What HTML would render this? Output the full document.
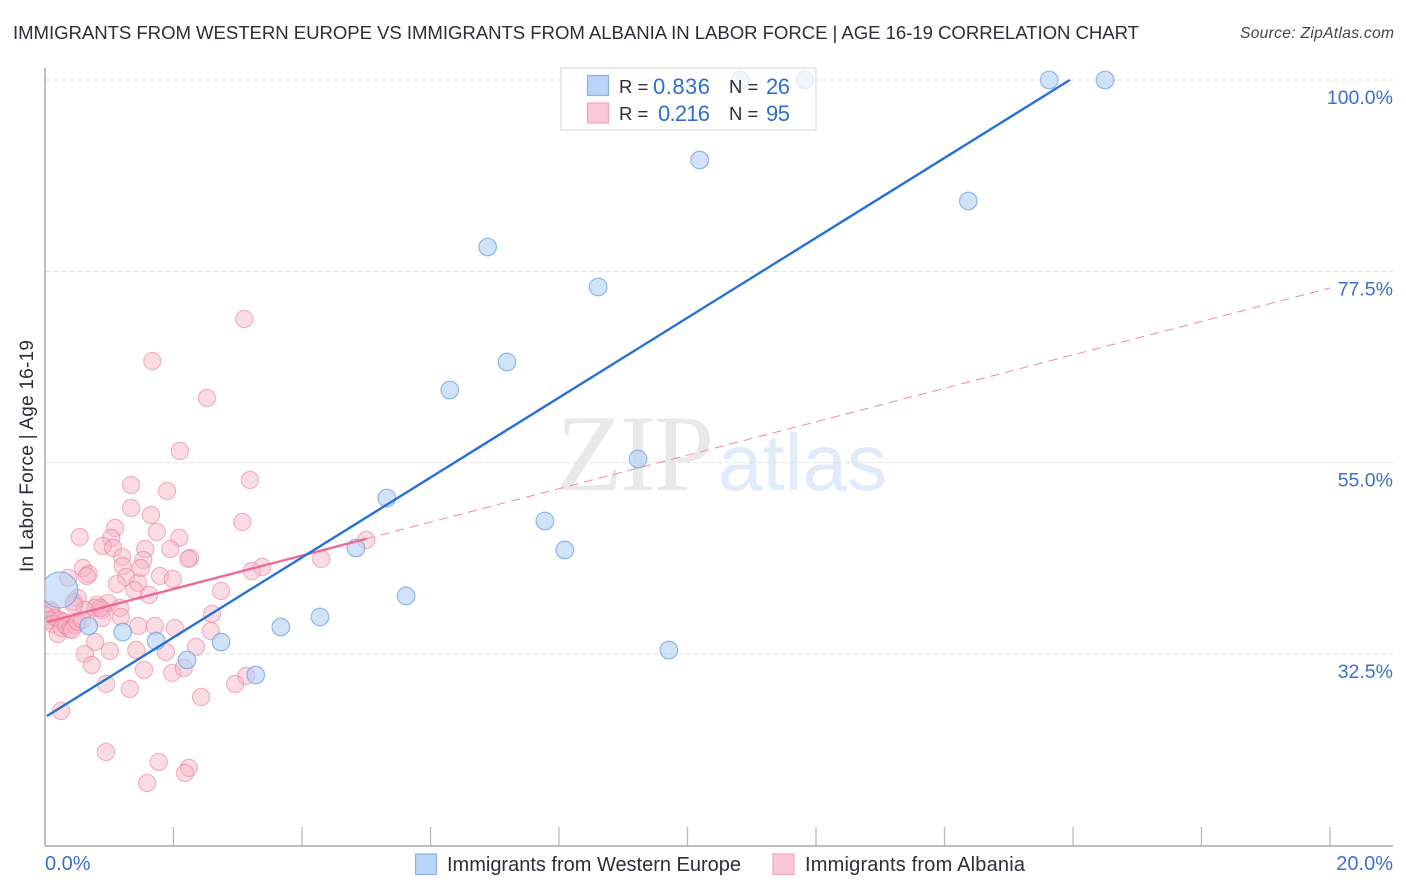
<!DOCTYPE html>
<html lang="en">
<head>
<meta charset="utf-8">
<title>Immigrants from Western Europe vs Immigrants from Albania in Labor Force | Age 16-19 Correlation Chart</title>
<style>
html,body{margin:0;padding:0;background:#fff;}
svg{display:block;font-family:"Liberation Sans",sans-serif;}
</style>
</head>
<body>
<svg id="chart" xmlns="http://www.w3.org/2000/svg" width="1406" height="892" viewBox="0 0 1406 892">
  <defs>
    <clipPath id="plot-clip"><rect x="45" y="60" width="1348" height="786"/></clipPath>
  </defs>
  <rect x="0" y="0" width="1406" height="892" fill="#fff"/>
  <text x="13" y="39" font-size="18.6" fill="#2b2f36" textLength="1126">IMMIGRANTS FROM WESTERN EUROPE VS IMMIGRANTS FROM ALBANIA IN LABOR FORCE | AGE 16-19 CORRELATION CHART</text>
  <text x="1394" y="38" font-size="15.6" font-style="italic" fill="#444" text-anchor="end" textLength="154">Source: ZipAtlas.com</text>
  <text transform="translate(33,572) rotate(-90)" font-size="19" fill="#2b2f36" textLength="232">In Labor Force | Age 16-19</text>

  <g>
    <text x="556" y="490" font-family="'Liberation Serif',serif" font-size="109" fill="#e9e9e9" textLength="158">ZIP</text>
    <text x="718" y="490" font-size="80" fill="#e2ebf9" textLength="169">atlas</text>
  </g>

  <g id="grid"></g>
  <g id="ticks"></g>
  <line x1="45" y1="68" x2="45" y2="846" stroke="#aaa" stroke-width="1.5"/>
  <line x1="45" y1="846" x2="1393" y2="846" stroke="#aaa" stroke-width="1.5"/>
  <g id="ylabels"></g>
  <g id="xlabels"></g>

  <g id="points" clip-path="url(#plot-clip)"></g>
  <g id="lines"></g>

  <g>
    <rect x="561" y="68" width="255" height="62" fill="#fff" fill-opacity="0.72" stroke="#e4e4e4" stroke-width="1.5"/>
    <rect x="587.5" y="75.5" width="21" height="20" fill="#b9d4f7" stroke="#8ab2e6" stroke-width="1.2"/>
    <rect x="587.5" y="103" width="21" height="20" fill="#fcc7d8" stroke="#f2a3bb" stroke-width="1.2"/>
    <text x="619" y="93" font-size="18.5" fill="#2b2f36">R =</text>
    <text x="653" y="94" font-size="22" fill="#2f6fd0" textLength="57">0.836</text>
    <text x="729" y="93" font-size="18.5" fill="#2b2f36">N =</text>
    <text x="766" y="94" font-size="22" fill="#2f6fd0" textLength="24">26</text>
    <text x="619" y="120" font-size="18.5" fill="#2b2f36">R =</text>
    <text x="658" y="121" font-size="22" fill="#2f6fd0" textLength="52">0.216</text>
    <text x="729" y="120" font-size="18.5" fill="#2b2f36">N =</text>
    <text x="766" y="121" font-size="22" fill="#2f6fd0" textLength="24">95</text>
  </g>

  <g>
    <rect x="415.5" y="854" width="21" height="20.5" fill="#b9d4f7" stroke="#8ab2e6" stroke-width="1.2"/>
    <text x="447" y="871" font-size="20" fill="#2b2f36" textLength="294">Immigrants from Western Europe</text>
  </g>
  <g>
    <rect x="773" y="854" width="21" height="20.5" fill="#fcc7d8" stroke="#f2a3bb" stroke-width="1.2"/>
    <text x="805" y="871" font-size="20" fill="#2b2f36" textLength="220">Immigrants from Albania</text>
  </g>
</svg>
<script>
const yTickValues = [100, 77.5, 55, 32.5];
const yTickLabels = ["100.0%", "77.5%", "55.0%", "32.5%"];
const xTickValues = [2, 4, 6, 8, 10, 12, 14, 16, 18, 20];
const xEndValues = [0, 20];
const xEndLabels = ["0.0%", "20.0%"];

const blueX = [15.63,16.50,10.82,11.83,10.19,14.37,6.89,8.61,7.19,6.30,9.23,5.32,7.78,8.09,4.84,5.62,4.28,3.67,0.68,1.21,1.73,2.74,2.21,9.71,3.28,0.23];
const blueY = [100,100,100,100,90.59,85.77,80.36,75.66,66.84,63.54,55.43,50.84,48.14,44.73,44.96,39.32,36.85,35.67,35.79,35.08,34.02,33.91,31.79,32.96,30.02,40.03];
const blueBig = [0,0,0,0,0,0,0,0,0,0,0,0,0,0,0,0,0,0,0,0,0,0,0,0,0,1];

const pinkX = [3.10,1.67,2.52,2.10,3.19,1.34,1.90,1.34,1.65,3.07,1.09,1.74,0.54,2.09,1.03,0.90,1.06,1.56,1.95,2.26,2.23,1.53,1.20,0.59,1.21,1.49,3.38,3.22,4.30,0.68,0.65,0.36,1.26,1.79,1.99,1.12,1.45,1.39,1.62,2.74,0.51,0.45,0.98,0.81,1.17,0.78,0.62,0.89,2.60,1.18,0.89,1.45,1.71,2.02,2.58,0.78,1.42,1.01,1.88,2.35,0.62,0.73,1.54,1.98,2.16,3.13,2.96,0.95,1.32,2.43,0.25,0.95,1.77,2.24,2.18,1.59,0.08,0.11,0.03,0.16,0.06,0.12,0.23,0.30,0.20,0.26,0.33,0.39,0.47,0.42,0.51,0.58,0.45,5.00,0.86];
const pinkY = [71.89,66.95,62.60,56.37,52.96,52.37,51.67,49.67,48.84,48.02,47.32,46.85,46.26,46.14,46.14,45.20,44.96,44.85,44.85,43.79,43.67,43.55,43.90,42.61,42.85,42.61,42.73,42.26,43.67,41.91,41.67,41.44,41.55,41.67,41.32,40.73,40.85,40.02,39.44,39.91,39.08,38.61,38.49,38.26,37.91,37.91,37.67,37.67,37.20,36.85,36.73,35.79,35.79,35.55,35.20,33.91,32.97,32.85,32.73,33.32,32.50,31.20,30.62,30.27,30.85,29.91,28.97,28.97,28.38,27.44,25.79,20.97,19.79,19.09,18.50,17.32,37.67,37.44,36.97,36.73,36.50,36.03,36.50,36.26,34.85,35.55,35.79,35.44,35.91,35.32,36.26,36.50,38.26,45.90,37.91];

const blueTrendX = [0.03, 15.95];
const blueTrendY = [25.2, 100];
const pinkSolidX = [0.03, 5.0];
const pinkSolidY = [36.26, 46.04];
const pinkDashX = [5.0, 20];
const pinkDashY = [46.04, 75.54];

const NS = "http://www.w3.org/2000/svg";
function xScale(v) { return 45 + v * 64.25; }
function yScale(v) { return 80 + (100 - v) * 8.503; }
function make(tag, attrs, parent) {
  const el = document.createElementNS(NS, tag);
  for (const k in attrs) el.setAttribute(k, attrs[k]);
  parent.appendChild(el);
  return el;
}

const gridG = document.getElementById("grid");
const ticksG = document.getElementById("ticks");
const ylabelsG = document.getElementById("ylabels");
const xlabelsG = document.getElementById("xlabels");
const pointsG = document.getElementById("points");
const linesG = document.getElementById("lines");

yTickValues.forEach(function (v, i) {
  const gy = yScale(v);
  const line = make("line", {x1: 45, y1: gy, x2: 1393, y2: gy, stroke: "#e2e2e2", "stroke-width": 1, "stroke-dasharray": "5 3"}, gridG);
  
  
  const t = make("text", {x: 1393, y: gy + 24, "font-size": 19.5, fill: "#3a70d2", "text-anchor": "end"}, ylabelsG);
  t.textContent = yTickLabels[i];
  
  
});

xTickValues.forEach(function (v) {
  const tx = xScale(v);
  const tick = make("line", {x1: tx, y1: 827, x2: tx, y2: 846, stroke: "#bbb", "stroke-width": 1.3}, ticksG);
  
  
});

xEndValues.forEach(function (v, i) {
  const attrs = i === 0
    ? {x: xScale(v), y: 870, "font-size": 20, fill: "#3a70d2"}
    : {x: 1393, y: 870, "font-size": 20, fill: "#3a70d2", "text-anchor": "end"};
  const t = make("text", attrs, xlabelsG);
  t.textContent = xEndLabels[i];
  
  
});

pinkX.forEach(function (v, i) {
  const c = make("circle", {cx: xScale(v), cy: yScale(pinkY[i]), r: 8.6, fill: "#f7b3c7", "fill-opacity": 0.46, stroke: "#e97f9f", "stroke-opacity": 0.55, "stroke-width": 1.2}, pointsG);
  
  
});

blueX.forEach(function (v, i) {
  const c = make("circle", {cx: xScale(v), cy: yScale(blueY[i]), r: blueBig[i] ? 18 : 8.8, fill: "#b3d0f4", "fill-opacity": 0.6, stroke: "#6a9de0", "stroke-opacity": 0.7, "stroke-width": 1.2}, pointsG);
  
  
});

const dashLine = make("line", {x1: xScale(pinkDashX[0]), y1: yScale(pinkDashY[0]), x2: xScale(pinkDashX[1]), y2: yScale(pinkDashY[1]), stroke: "#ea8aa8", "stroke-width": 1, "stroke-dasharray": "9 6"}, linesG);



const pinkLine = make("line", {x1: xScale(pinkSolidX[0]), y1: yScale(pinkSolidY[0]), x2: xScale(pinkSolidX[1]), y2: yScale(pinkSolidY[1]), stroke: "#ee6a94", "stroke-width": 2.4}, linesG);



const blueLine = make("line", {x1: xScale(blueTrendX[0]), y1: yScale(blueTrendY[0]), x2: xScale(blueTrendX[1]), y2: yScale(blueTrendY[1]), stroke: "#2571d8", "stroke-width": 2.4}, linesG);


</script>
</body>
</html>
